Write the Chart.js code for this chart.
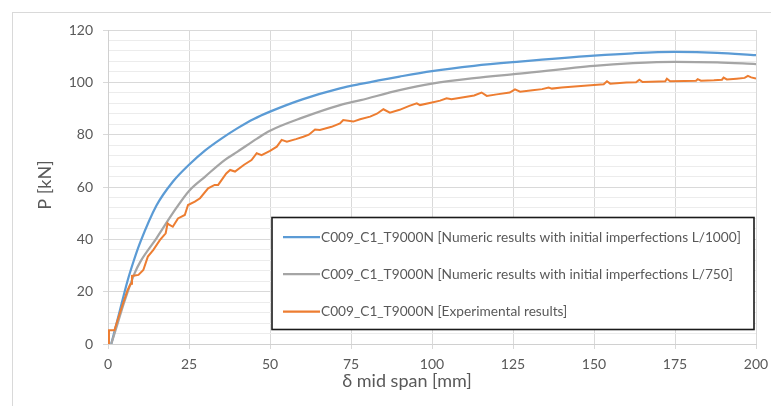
<!DOCTYPE html>
<html>
<head>
<meta charset="utf-8">
<script src="https://cdn.jsdelivr.net/npm/chart.js@4/dist/chart.umd.min.js"></script>
<style>
  html, body { margin: 0; padding: 0; background: #fff; overflow: hidden; }
  #wrap { position: relative; width: 771px; height: 406px; overflow: hidden; }
  #frame { position: absolute; left: 12px; top: 12px; width: 820px; height: 440px;
           border: 1px solid #d9d9d9; box-sizing: border-box; }
  canvas { position: absolute; left: 0; top: 0; }
</style>
</head>
<body>
<div id="wrap">
  <div id="frame"></div>
  <canvas id="chart" width="771" height="406"></canvas>
</div>
<script>
// Load P [kN] versus mid-span deflection δ [mm], beam C009_C1_T9000N

const seriesLabels = [
  'C009_C1_T9000N [Numeric results with initial imperfections L/1000]',
  'C009_C1_T9000N [Numeric results with initial imperfections L/750]',
  'C009_C1_T9000N [Experimental results]'
];

const xTitle = 'δ mid span [mm]';
const yTitle = 'P [kN]';

// Numeric model, imperfection L/1000
const deflL1000 = [1, 3, 6, 8, 10, 15, 20, 25, 30, 35, 40, 45, 50, 60, 71.6, 78, 90, 100, 113, 127, 150, 162, 175, 188, 200];
const loadL1000 = [0, 9.5, 24, 32, 39, 53, 62, 68.5, 74, 78.5, 82.5, 86, 88.8, 93.5, 97.7, 99.4, 102.2, 104.3, 106.3, 107.9, 110.2, 111.1, 111.6, 111.3, 110.4];

// Numeric model, imperfection L/750
const deflL750 = [1, 3, 5, 8.2, 10, 15, 20, 25, 30, 36, 40, 46, 50, 60, 71.6, 78, 90, 100, 113, 127, 150, 162, 175, 188, 200];
const loadL750 = [0, 8, 16, 27, 31.5, 40.5, 50, 58.5, 64, 70.3, 73.5, 78.5, 81.5, 86.5, 91.3, 93.2, 97, 99.5, 101.6, 103.3, 106.3, 107.3, 107.8, 107.6, 107];

// Test measurements
const deflTest = [0, 0.3, 2, 2.8, 4.5, 6, 6.8, 7.1, 7.4, 9.4, 10.9, 12.3, 14, 16, 17.8, 18.4, 19, 20, 21.6, 23.7,
  24.7, 26.8, 28.4, 30.9, 32.9, 34, 36.5, 37.7, 39.2, 42, 44.3, 45.9, 47.4, 50, 52.1, 53.6, 55.2, 58, 60.3, 62,
  63.9, 65.4, 69, 71.6, 72.6, 75.7, 77.8, 80.9, 83, 85, 87, 90, 93, 95.3, 96.3, 100, 102.5, 104.5, 106, 110.7,
  113, 115.3, 116.9, 120, 124, 125.6, 127.2, 131, 134, 136, 137, 140, 145, 150, 153, 154, 155, 160, 163, 164,
  165, 170, 172, 172.5, 173.5, 178, 181.5, 182, 183, 187, 189.5, 190, 191, 194, 196.5, 197.5, 198.5, 200];
const loadTest = [0, 5.3, 5.3, 8.5, 15, 20.5, 22.5, 23, 26, 26.4, 28.3, 33.4, 36, 39.7, 42.3, 46.1, 45.5, 44.8, 48, 49.3,
  53.1, 54.4, 55.7, 59.5, 60.8, 60.8, 65.2, 66.5, 65.9, 68.5, 70.3, 72.9, 72.2, 73.8, 75.4, 78, 77.3, 78.3, 79.2, 80,
  82, 81.8, 83, 84.3, 85.6, 85, 85.9, 86.9, 88, 89.7, 88.4, 89.5, 91, 92, 91.3, 92.3, 93, 93.9, 93.5, 94.5,
  95, 96.1, 94.8, 95.4, 96.1, 97.3, 96.4, 97, 97.4, 98, 97.6, 98, 98.5, 99, 99.3, 100.4, 99.5, 99.9, 100, 101,
  100.1, 100.3, 100.4, 101.4, 100.4, 100.5, 100.6, 101.2, 100.6, 100.8, 101, 101.8, 101.1, 101.4, 101.7, 102.5, 101.9, 101.5];

const xTicks = { min: 0, max: 200, step: 25 };
const yTicks = { min: 0, max: 120, step: 20, minorStep: 4 };

const colors = ['#5B9BD5', '#A5A5A5', '#ED7D31'];
const textColor = '#595959';
const fontFamily = 'Lato, "Liberation Sans", Arial, sans-serif';

const toPoints = (xs, ys) => xs.map((x, i) => ({ x, y: ys[i] }));

// Legend box inside the plot and the two axis titles
const overlay = {
  id: 'overlay',
  afterDraw(chart) {
    const ctx = chart.ctx;
    ctx.save();
    // axis titles
    ctx.fillStyle = textColor;
    ctx.font = '18px ' + fontFamily;
    ctx.textAlign = 'center';
    ctx.textBaseline = 'middle';
    ctx.fillText(xTitle, 407, 381);
    ctx.save();
    ctx.translate(45, 185);
    ctx.rotate(-Math.PI / 2);
    ctx.fillText(yTitle, 0, 0);
    ctx.restore();

    // legend
    const box = { left: 272, top: 217.5, right: 754, bottom: 329.5 };
    ctx.fillStyle = '#ffffff';
    ctx.fillRect(box.left, box.top, box.right - box.left, box.bottom - box.top);
    ctx.strokeStyle = '#1a1a1a';
    ctx.lineWidth = 1.6;
    ctx.strokeRect(box.left, box.top, box.right - box.left, box.bottom - box.top);
    const rows = [237, 274, 311.5];
    ctx.font = '13.7px ' + fontFamily;
    ctx.textAlign = 'left';
    chart.data.datasets.forEach((ds, i) => {
      const y = rows[i];
      ctx.strokeStyle = ds.borderColor;
      ctx.lineWidth = 2.25;
      ctx.beginPath();
      ctx.moveTo(283, y);
      ctx.lineTo(320, y);
      ctx.stroke();
      ctx.fillStyle = textColor;
      ctx.fillText(ds.label, 321, y + 0.5);
    });
    ctx.restore();
  }
};

new Chart(document.getElementById('chart'), {
  type: 'scatter',
  data: {
    datasets: [
      { label: seriesLabels[0], data: toPoints(deflL1000, loadL1000), showLine: true,
        borderColor: colors[0], borderWidth: 2.25, pointRadius: 0, cubicInterpolationMode: 'monotone', order: 2 },
      { label: seriesLabels[1], data: toPoints(deflL750, loadL750), showLine: true,
        borderColor: colors[1], borderWidth: 2.25, pointRadius: 0, cubicInterpolationMode: 'monotone', order: 1 },
      { label: seriesLabels[2], data: toPoints(deflTest, loadTest), showLine: true,
        borderColor: colors[2], borderWidth: 2, pointRadius: 0, tension: 0, order: 0 }
    ]
  },
  options: {
    responsive: false,
    animation: false,
    devicePixelRatio: 1,
    layout: { padding: { left: 0, top: 30, right: 15, bottom: 0 } },
    plugins: { legend: { display: false }, tooltip: { enabled: false } },
    scales: {
      x: {
        type: 'linear', min: xTicks.min, max: xTicks.max,
        afterFit(scale) { scale.height = 62; scale.paddingLeft = 0; scale.paddingRight = 12; },
        ticks: { stepSize: xTicks.step, color: textColor, padding: 7,
                 font: { family: fontFamily, size: 14 } },
        grid: { color: '#d9d9d9', lineWidth: 1, tickLength: 5, tickColor: '#d9d9d9' },
        border: { color: '#d0d0d0' }
      },
      y: {
        type: 'linear', min: yTicks.min, max: yTicks.max,
        afterFit(scale) { scale.width = 108; },
        ticks: { stepSize: yTicks.minorStep, autoSkip: false, color: textColor, padding: 10,
                 font: { family: fontFamily, size: 14 },
                 callback: (v) => (v % yTicks.step === 0 ? v : '') },
        grid: {
          lineWidth: 1, tickLength: 5,
          color: (c) => (c.tick && c.tick.value % yTicks.step === 0 ? '#d9d9d9' : '#ececec'),
          tickColor: (c) => (c.tick && c.tick.value % yTicks.step === 0 ? '#d9d9d9' : 'rgba(0,0,0,0)')
        },
        border: { color: '#d0d0d0' }
      }
    }
  },
  plugins: [overlay]
});
</script>
</body>
</html>
